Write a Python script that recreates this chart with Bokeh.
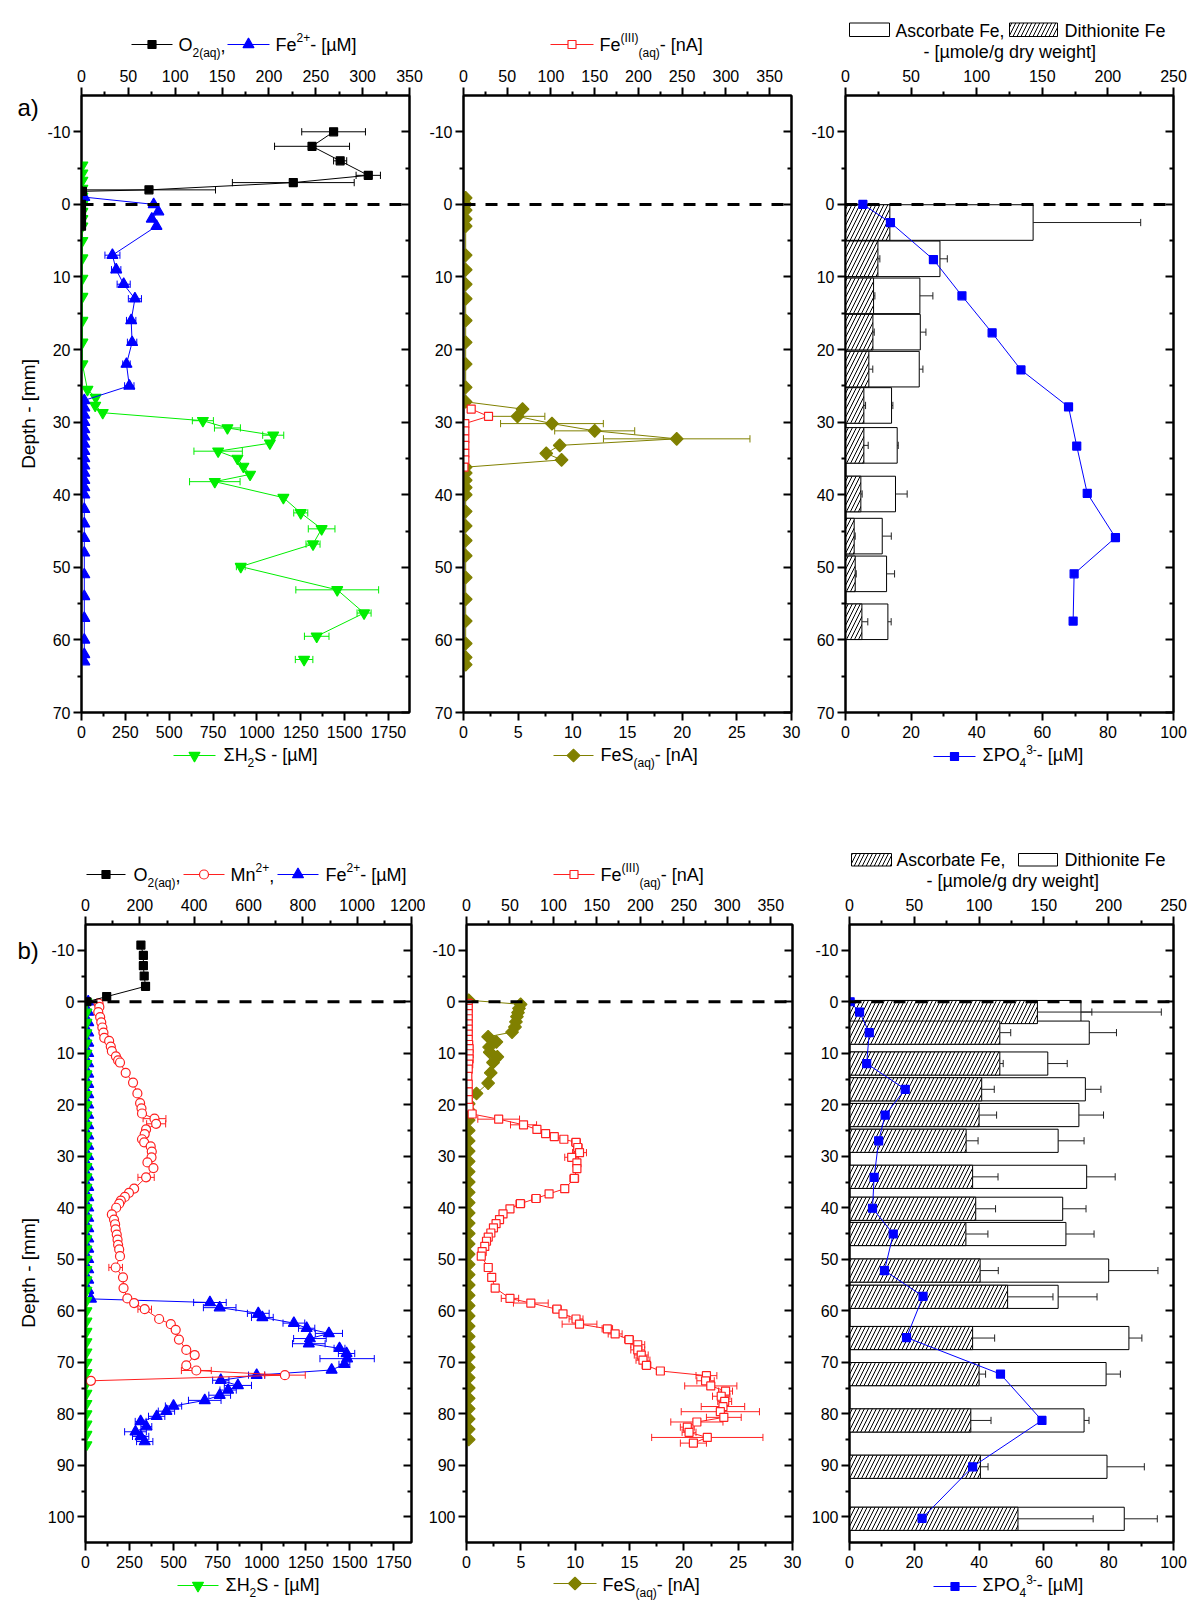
import numpy as np
from bokeh.plotting import figure
from bokeh.models import Range1d, LinearAxis, FixedTicker, Span, Spacer
from bokeh.layouts import column, row
from bokeh.embed import file_html
from bokeh.resources import INLINE
from bokeh.core.properties import value

FONT = "Liberation Sans"
BLACK = "#000000"
BLUE = "#0000ff"
GREEN = "#00ee00"
RED = "#ff2020"
OLIVE = "#808000"

# ---------------- DATA : panel a1 ----------------
o2_a_depth = [-10, -8, -6, -4, -3, -2, -1.8, 0, 1, 2, 3]
o2_a_val = [269, 246, 276, 306, 226, 72, 1, 0, 0, 0, 0]
o2_a_err = [34, 40, 7, 13, 65, 71, 0, 0, 0, 0, 0]

fe2_a_depth = [-1, 0, 1, 2, 3, 7, 9, 11, 13, 16, 19, 22, 25, 27, 28, 29, 30, 31, 32, 33, 34, 35, 36,
               37, 38, 39, 40, 42, 44, 46, 48, 51, 54, 57, 60, 62, 63]
fe2_a_val = [3, 77, 82, 75, 80, 33, 37, 45, 57, 53, 54, 48, 51, 3, 3, 3, 3, 3, 3, 3, 3, 3, 3,
             3, 3, 3, 3, 3, 3, 3, 3, 3, 3, 3, 3, 3, 3]
fe2_a_err = [0, 0, 0, 0, 0, 8, 5, 7, 7, 5, 5, 4, 5, 0, 0, 0, 0, 0, 0, 0, 0, 0, 0,
             0, 0, 0, 0, 0, 0, 0, 0, 0, 0, 0, 0, 0, 0]

h2s_a_depth = [-5.4, -4.3, -3.3, -2.2, -1.1, 0, 1, 2, 3, 5, 7.4, 10.2, 12.7, 16, 19, 22,
               25.5, 26.6, 27.7, 28.7, 29.8, 30.8, 31.8, 32.9, 34.0, 35.0, 36.1, 37.2, 38.2,
               40.4, 42.5, 44.7, 46.8, 49.9, 53.1, 56.3, 59.5, 62.7]
h2s_a_val = [5, 5, 5, 5, 5, 5, 5, 5, 5, 5, 5, 5, 5, 5, 5, 5,
             34, 81, 78, 121, 692, 832, 1093, 1074, 779, 889, 923, 961, 760,
             1151, 1250, 1369, 1320, 908, 1458, 1611, 1341, 1269]
h2s_a_err = [0, 0, 0, 0, 0, 0, 0, 0, 0, 0, 0, 0, 0, 0, 0, 0,
             0, 0, 0, 0, 60, 74, 60, 0, 138, 0, 0, 0, 144,
             0, 40, 76, 40, 25, 236, 40, 70, 50]

# ---------------- DATA : panel a2 ----------------
fes_a_depth = [-0.9, 0, 0.8, 2, 3, 7, 9, 11, 13, 16, 19, 22, 25.2, 27.2,
               28.2, 29.2, 30.2, 31.2, 32.3, 33.2, 34.3, 35.2,
               36.2, 37, 38, 39, 40, 42.3, 44.3, 46.3, 48.4, 51.4, 54.4, 57.4, 60.5, 62.4, 63.4]
fes_a_val = [0.2, 0.2, 0.2, 0.2, 0.2, 0.2, 0.2, 0.2, 0.2, 0.2, 0.2, 0.2, 0.2, 0.2,
             5.4, 4.94, 8.09, 12.0, 19.5, 8.8, 7.57, 8.97,
             0.2, 0.2, 0.2, 0.2, 0.2, 0.2, 0.2, 0.2, 0.2, 0.2, 0.2, 0.2, 0.2, 0.2, 0.2]
fes_a_err = [0, 0, 0, 0, 0, 0, 0, 0, 0, 0, 0, 0, 0, 0,
             0, 2.5, 4.7, 3.66, 6.7, 0, 0, 0,
             0, 0, 0, 0, 0, 0, 0, 0, 0, 0, 0, 0, 0, 0, 0]

fe3_a_depth = [28.2, 29.2, 30.2, 31.2, 32.3, 33.2, 34.3, 35.2, 36.2]
fe3_a_val = [8.8, 28.6, 1.5, 1.5, 1.5, 1.5, 1.5, 1.5, 0.5]

# ---------------- DATA : panel a3 ----------------
bar_a_depth = [2.5, 7.5, 12.6, 17.6, 22.7, 27.7, 33.2, 39.9, 45.7, 50.9, 57.5]
asc_a_val = [143, 72, 56.7, 57, 56.2, 35.1, 39.4, 38.1, 28, 31.3, 32.3]
asc_a_err = [82, 5.6, 9.9, 4.3, 2.8, 1, 0.8, 8.9, 6.9, 6.1, 2.5]
dit_a_val = [33.8, 24.7, 21.4, 20.9, 17.8, 14, 14, 11.7, 6.6, 7.4, 12.5]
dit_a_err = [1, 1.5, 1, 1, 3, 1.3, 3.3, 1, 0.8, 0.8, 4.5]

po4_a_depth = [0, 2.5, 7.6, 12.6, 17.7, 22.8, 27.9, 33.3, 39.8, 45.9, 50.9, 57.4]
po4_a_val = [5.3, 13.7, 26.8, 35.5, 44.7, 53.5, 68, 70.5, 73.7, 82.3, 69.7, 69.4]

# ---------------- DATA : panel b1 ----------------
o2_b_depth = [-11, -9, -7, -5, -3, -1, 0]
o2_b_val = [204, 213, 213, 216, 221, 78, 5]

mn_b_depth = [0.3, 1, 2, 3, 4, 5, 6, 7, 7.6, 8.7,
              9.6, 10.6, 11.4, 11.8, 13.8, 15.7, 17.8, 19.7, 20.7, 21.7,
              22.7, 23.7, 24.8, 25.7, 26.7, 27.3, 28.1, 29.1, 30.2, 31.2,
              32.3, 34.1, 36.3, 37.1, 37.9, 38.6, 39.2, 40, 41.3, 42.3,
              43.2, 44.2, 45.2, 46.2, 47.2, 48.1, 49.4, 51.6, 53.5, 55.6,
              57.6, 58.5, 59.7, 61.6, 62.6, 63.7, 65.6, 67.6, 68.6, 70.6,
              71.6, 72.5, 73.6]
mn_b_val = [48, 51, 47, 54, 58, 62, 66, 69, 87, 93,
            97, 112, 120, 127, 148, 175, 191, 201, 206, 208,
            254, 260, 223, 218, 208, 216, 240, 244, 243, 228,
            250, 223, 179, 160, 145, 130, 124, 113, 97, 105,
            109, 111, 115, 118, 120, 124, 127, 111, 138, 140,
            154, 179, 218, 271, 314, 332, 344, 371, 402, 371,
            408, 734, 20]
mn_b_err = [0, 0, 0, 0, 0, 0, 0, 0, 0, 0,
            0, 0, 0, 10, 0, 8, 0, 0, 0, 0,
            42, 35, 0, 0, 0, 0, 0, 0, 0, 0,
            0, 30, 0, 0, 0, 0, 0, 0, 0, 0,
            0, 0, 0, 0, 0, 0, 0, 25, 0, 0,
            0, 0, 25, 0, 0, 0, 0, 10, 12, 0,
            55, 75, 0]

fe2_b_depth = [0, 2, 4, 6, 8, 10, 12, 14, 16, 18, 20, 22, 24, 26, 28, 30, 32, 34, 36, 38, 40,
               42, 44, 46, 48, 50, 52, 54, 56,
               57.7, 58.4, 59.4, 60.5, 61.3, 62.4, 63.4, 64.4, 65.4, 66.4, 67.3, 68.3, 69.3,
               70.4, 71.5, 72.5, 73.5, 74.5, 75.4, 76.4, 77.4, 78.5, 79.5, 80.5, 81.5, 82.5,
               83.5, 84.4, 85.4]
fe2_b_val = [10, 10, 10, 10, 10, 10, 10, 10, 10, 10, 10, 10, 10, 10, 10, 10, 10, 10, 10, 10, 10,
             10, 10, 10, 10, 10, 10, 10, 10,
             20, 458, 494, 636, 651, 767, 814, 896, 826, 822, 935, 961, 963,
             953, 906, 630, 498, 561, 525, 494, 439, 324, 298, 262, 203, 224,
             184, 203, 218]
fe2_b_err = [0, 0, 0, 0, 0, 0, 0, 0, 0, 0, 0, 0, 0, 0, 0, 0, 0, 0, 0, 0, 0,
             0, 0, 0, 0, 0, 0, 0, 0,
             0, 60, 60, 40, 40, 40, 30, 50, 60, 60, 20, 30, 100,
             20, 0, 30, 30, 50, 30, 40, 60, 30, 30, 30, 20, 20,
             40, 30, 30]

h2s_b_depth = [0, 2, 4, 6, 8, 10, 12, 14, 16, 18, 20, 22, 24, 26, 28, 30, 32, 34, 36, 38, 40, 42,
               44, 46, 48, 50, 52, 54, 56, 58, 60, 62, 64, 66, 68, 70, 72, 74, 76, 78, 80, 82, 84, 86]
h2s_b_val = [8, 8, 8, 8, 8, 8, 8, 8, 8, 8, 8, 8, 8, 8, 8, 8, 8, 8, 8, 8, 8, 8,
             8, 8, 8, 8, 8, 8, 8, 8, 8, 8, 8, 8, 8, 8, 8, 8, 8, 8, 8, 8, 8, 8]

# ---------------- DATA : panel b2 ----------------
fes_b_depth = [-0.3, 0.5, 1.3, 2.1, 2.9, 3.9, 4.9, 5.9, 6.8, 7.8, 8.8, 9.8, 10.7, 11.8, 13.8,
               15.8, 17.8, 19.8,
               21, 23, 25, 27, 29, 31, 33, 35, 37, 39, 41, 43, 45, 47, 49, 51, 53, 55, 57, 59,
               61, 63, 65, 67, 69, 71, 73, 75, 77, 79, 81, 83, 85]
fes_b_val = [0.2, 4.98, 4.83, 4.74, 4.64, 4.55, 4.46, 4.19, 1.99, 2.75, 2.08, 2.14, 2.84, 2.44,
             2.23, 1.99, 0.92, 0.2,
             0.2, 0.2, 0.2, 0.2, 0.2, 0.2, 0.2, 0.2, 0.2, 0.2, 0.2, 0.2, 0.2, 0.2, 0.2, 0.2,
             0.2, 0.2, 0.2, 0.2, 0.2, 0.2, 0.2, 0.2, 0.2, 0.2, 0.2, 0.2, 0.2, 0.2, 0.2, 0.2, 0.2]
fes_b_err = [0, 0, 0, 0, 0, 0, 0, 0, 0, 0.3, 0, 0, 0.3, 0, 0, 0, 0, 0,
             0, 0, 0, 0, 0, 0, 0, 0, 0, 0, 0, 0, 0, 0, 0, 0, 0, 0, 0, 0,
             0, 0, 0, 0, 0, 0, 0, 0, 0, 0, 0, 0, 0]

fe3_b_depth = [0.3, 1.3, 2.3, 3.3, 4.3, 5.3, 6.3, 7.3, 8.3, 9.1, 10.1, 11.1, 12.1, 13.1, 14.5,
               16, 17.5, 19, 20.5, 21.8,
               22.8, 23.9, 24.8, 25.6, 26.2, 26.7, 27.3, 28.3, 29.3, 30.2,
               31.3, 32.4, 34.3, 36.3, 37.3, 38.2, 39.2, 40.2, 41.2, 42.3,
               43.1, 43.9, 44.9, 45.7, 46.5, 47.5, 48.5, 49.4, 51.6, 53.5,
               55.6, 57.6, 58.5, 59.7, 60.6, 61.6, 62.6, 63.5, 64.5, 65.6,
               66.6, 67.6, 68.6, 69.6, 70.6, 71.7, 72.6, 73.6, 74.6, 75.6,
               76.6, 77.6, 78.6, 79.6, 80.7, 81.6, 82.6, 83.6, 84.6, 85.7]
fe3_b_val = [2, 2, 2, 2, 2, 2, 2, 2, 2.5, 3, 3, 3, 2.5, 2, 1.5, 2, 2, 2, 3, 6.5,
             37, 65.6, 81, 91, 101, 112, 126, 128, 130, 121,
             127, 127, 124, 113, 95, 80, 62, 50, 42, 38,
             34, 31, 28, 25, 23, 21, 18, 17, 25, 29,
             33, 50, 74, 104, 111, 126, 130, 162, 171, 187,
             197, 197, 201, 203, 207, 223, 276, 275, 281, 298,
             293, 297, 295, 292, 296, 265, 254, 256, 277, 261]
fe3_b_err = [0, 0, 0, 0, 0, 0, 0, 0, 0, 0, 0, 0, 0, 0, 0, 0, 0, 0, 0, 0,
             24, 15, 0, 0, 0, 0, 5, 5, 8, 8,
             0, 0, 5, 0, 0, 5, 5, 4, 0, 0,
             0, 0, 0, 0, 0, 0, 0, 0, 4, 3,
             0, 10, 20, 5, 0, 8, 20, 6, 8, 5,
             8, 8, 8, 8, 5, 0, 12, 10, 30, 8,
             10, 8, 25, 45, 20, 30, 8, 8, 64, 15]

# ---------------- DATA : panel b3 ----------------
bar_b_depth = [2, 6, 12, 17, 22, 27, 34, 40.2, 45.1, 52.2, 57.3, 65.3, 72.3, 81.3, 90.3, 100.4]
dit_b_val = [178.6, 185, 153, 182, 177, 161, 183, 164.5, 167, 200, 161, 215.6, 198, 181, 198.7, 212]
dit_b_err = [62, 21, 15, 12, 19, 20, 22, 18, 21.7, 38, 30, 10, 11, 3.8, 28.8, 25.5]
asc_b_val = [145, 116, 116, 102, 100, 90, 95, 97.4, 89.8, 100.8, 122, 95, 100, 93.6, 101, 130]
asc_b_err = [42, 8.4, 2.6, 9.7, 13.5, 9.2, 19.6, 15.3, 17, 14, 35, 17, 5, 15.6, 5.9, 58]

po4_b_depth = [0, 2, 6, 12, 17, 22, 27, 34.1, 40.1, 45.1, 52.2, 57.2, 65.2, 72.3, 81.3, 90.3, 100.3]
po4_b_val = [0.2, 3.1, 6.1, 5.3, 17.2, 11, 9, 7.6, 7.1, 13.5, 10.8, 22.7, 17.6, 46.6, 59.4, 38, 22.4]

# ---------------- axis ticks ----------------
ticks_h2s = [0, 250, 500, 750, 1000, 1250, 1500, 1750]
minor_h2s = [125, 375, 625, 875, 1125, 1375, 1625]
ticks_350 = [0, 50, 100, 150, 200, 250, 300, 350]
minor_350 = [25, 75, 125, 175, 225, 275, 325]
ticks_30 = [0, 5, 10, 15, 20, 25, 30]
minor_30 = [2.5, 7.5, 12.5, 17.5, 22.5, 27.5]
ticks_100 = [0, 20, 40, 60, 80, 100]
minor_100 = [10, 30, 50, 70, 90]
ticks_250 = [0, 50, 100, 150, 200, 250]
minor_250 = [25, 75, 125, 175, 225]
ticks_1200 = [0, 200, 400, 600, 800, 1000, 1200]
minor_1200 = [100, 300, 500, 700, 900, 1100]
ticks_ya = [-10, 0, 10, 20, 30, 40, 50, 60, 70]
minor_ya = [-5, 5, 15, 25, 35, 45, 55, 65]
ticks_yb = [-10, 0, 10, 20, 30, 40, 50, 60, 70, 80, 90, 100]
minor_yb = [-5, 5, 15, 25, 35, 45, 55, 65, 75, 85, 95]

# ---------------- helpers ----------------
W = {' ': 278, '(': 333, ')': 333, '+': 584, ',': 278, '-': 333, '/': 278, '[': 278, ']': 278,
     'A': 667, 'D': 722, 'F': 611, 'H': 722, 'I': 278, 'M': 833, 'O': 778, 'P': 667, 'S': 667,
     'a': 556, 'b': 556, 'c': 500, 'd': 556, 'e': 556, 'g': 556, 'h': 556, 'i': 222, 'l': 222,
     'm': 833, 'n': 556, 'o': 556, 'q': 556, 'r': 333, 's': 500, 't': 278, 'w': 722, 'y': 500,
     'µ': 576, 'Σ': 610}
for _c in "0123456789":
    W[_c] = 556


def tw(t, size):
    return sum(W.get(c, 556) for c in t) * size / 1000.0


def style_axis(ax, ticks, minor, inward=False, labels=True, standoff=4):
    ax.ticker = FixedTicker(ticks=ticks, minor_ticks=minor)
    ax.axis_line_width = 2
    ax.axis_line_color = "black"
    ax.major_tick_line_width = 2
    ax.minor_tick_line_width = 2
    if inward:
        ax.major_tick_in, ax.major_tick_out = 8, 0
        ax.minor_tick_in, ax.minor_tick_out = 4, 0
    else:
        ax.major_tick_in, ax.major_tick_out = 0, 8
        ax.minor_tick_in, ax.minor_tick_out = 0, 4
    ax.major_label_text_font = FONT
    if labels:
        ax.major_label_text_font_size = "16px"
        ax.major_label_standoff = standoff
        ax.major_label_text_color = "black"
        if -10 in ticks:
            ax.major_label_overrides = {-10: "-10"}
    else:
        ax.major_label_text_font_size = "0px"
        ax.major_label_text_color = None
        ax.major_label_standoff = 0


def panel(width, height, bl, br, bt, bb, xb, xt, ymax, b_ticks, b_minor, t_ticks, t_minor,
          y_ticks, y_minor):
    p = figure(width=width, height=height, x_range=Range1d(0, xb), y_range=Range1d(ymax, -15),
               output_backend="svg", toolbar_location=None,
               min_border_left=bl, min_border_right=br, min_border_top=bt, min_border_bottom=bb)
    p.extra_x_ranges = {"top": Range1d(0, xt)}
    p.xgrid.visible = False
    p.ygrid.visible = False
    p.outline_line_color = "black"
    p.outline_line_width = 2
    p.background_fill_color = "white"
    p.border_fill_color = "white"
    style_axis(p.xaxis[0], b_ticks, b_minor, standoff=5)
    style_axis(p.yaxis[0], y_ticks, y_minor, standoff=3)
    ta = LinearAxis(x_range_name="top")
    style_axis(ta, t_ticks, t_minor, standoff=6)
    p.add_layout(ta, "above")
    ra = LinearAxis()
    style_axis(ra, y_ticks, y_minor, inward=True, labels=False)
    p.add_layout(ra, "right")
    p.add_layout(Span(location=0, dimension="width", line_color="black", line_width=3,
                      line_dash="12 10"))
    return p


def series(p, d, v, e, color, marker, size, fill, rng=None, cap=0.5, line_n=None, angle=0.0):
    d = np.asarray(d, float)
    v = np.asarray(v, float)
    assert len(d) == len(v)
    kw = {"x_range_name": rng} if rng else {}
    n = len(d) if line_n is None else line_n
    p.line(x=v[:n], y=d[:n], line_color=color, line_width=1, **kw)
    if e is not None:
        e = np.asarray(e, float)
        assert len(e) == len(d)
        m = e > 0
        if m.any():
            p.segment(x0=v[m] - e[m], y0=d[m], x1=v[m] + e[m], y1=d[m], line_color=color,
                      line_width=1, **kw)
            for sgn in (-1, 1):
                xx = v[m] + sgn * e[m]
                p.segment(x0=xx, y0=d[m] - cap, x1=xx, y1=d[m] + cap, line_color=color,
                          line_width=1, **kw)
    p.scatter(x=v, y=d, marker=marker, size=size, fill_color=fill, line_color=color,
              line_width=1.2, angle=angle, **kw)


def bars(p, d, v, e, hatch, height):
    d = np.asarray(d, float)
    v = np.asarray(v, float)
    e = np.asarray(e, float)
    assert len(d) == len(v) == len(e)
    kw = dict(fill_color="white", line_color="black", line_width=1, x_range_name="top")
    if hatch:
        kw.update(hatch_pattern="/", hatch_color="black", hatch_scale=8, hatch_weight=1)
    p.hbar(y=d, height=height, left=0, right=v, **kw)
    return d, v, e


def bar_err(p, d, v, e, cap):
    p.segment(x0=v, y0=d, x1=v + e, y1=d, line_color="#222222", line_width=1, x_range_name="top")
    p.segment(x0=v + e, y0=d - cap, x1=v + e, y1=d + cap, line_color="#222222", line_width=1,
              x_range_name="top")


# strips: a drawing area whose coordinates are page pixels (y stored as negative page y)
def strip(width, height, x0, y0):
    s = figure(width=width, height=height, x_range=Range1d(x0, x0 + width),
               y_range=Range1d(-(y0 + height), -y0), x_axis_type=None, y_axis_type=None,
               output_backend="svg", toolbar_location=None, min_border=0)
    s.outline_line_color = None
    s.background_fill_color = "white"
    s.border_fill_color = "white"
    return s


# the renderer draws "alphabetic" text about 0.3 em lower than asked; compensate
SHIFT = 0.3


def rich(s, x, y, runs, size=18, small=12, sup=-9):
    for t, k in runs:
        sz = size if k == "n" else small
        dy = 0 if k == "n" else (6 if k == "sub" else sup)
        s.text(x=[x], y=[-(y + dy - SHIFT * sz)], text=[t], text_font=value(FONT),
               text_font_size=value(f"{sz}px"), text_baseline="alphabetic", text_align="left",
               text_color="black")
        x += tw(t, sz)
    return x


def sample(s, x0, x1, y, color, marker, size, fill, angle=0.0):
    s.line(x=[x0, x1], y=[-y, -y], line_color=color, line_width=1)
    s.scatter(x=[(x0 + x1) / 2.0], y=[-y], marker=marker, size=size, fill_color=fill,
              line_color=color, line_width=1.2, angle=angle)


def box(s, x0, x1, y0, y1, hatch):
    kw = dict(fill_color="white", line_color="black", line_width=1)
    if hatch:
        kw.update(hatch_pattern="/", hatch_color="black", hatch_scale=8, hatch_weight=1)
    s.quad(left=[x0], right=[x1], top=[-y0], bottom=[-y1], **kw)


def side(s, letter, ly, depth_y):
    s.text(x=[17], y=[-ly], text=[letter], text_font=value(FONT),
           text_font_size=value("24px"), text_baseline="alphabetic", text_align="left",
           text_color="black")
    s.text(x=[28], y=[-depth_y], text=["Depth - [mm]"], text_font=value(FONT),
           text_font_size=value("19px"), text_baseline="middle", text_align="center",
           text_color="black", angle=np.pi / 2)


DIAM = np.pi / 4

# ---------------- row a ----------------
CAP_A = 0.5
leftA = strip(35, 682, 8, 62)
side(leftA, "a)", 75, 414)

a1 = panel(382, 682, 38, 16, 33, 32, 1870, 350, 70, ticks_h2s, minor_h2s, ticks_350, minor_350,
           ticks_ya, minor_ya)
series(a1, h2s_a_depth, h2s_a_val, h2s_a_err, GREEN, "inverted_triangle", 11, GREEN, cap=CAP_A,
       line_n=len(h2s_a_depth) - 1)
series(a1, fe2_a_depth, fe2_a_val, fe2_a_err, BLUE, "triangle", 11, BLUE, rng="top", cap=CAP_A)
series(a1, o2_a_depth, o2_a_val, o2_a_err, BLACK, "square", 8, BLACK, rng="top", cap=CAP_A)

a2 = panel(383, 682, 38, 17, 33, 32, 30, 375, 70, ticks_30, minor_30, ticks_350, minor_350,
           ticks_ya, minor_ya)
series(a2, fes_a_depth, fes_a_val, fes_a_err, OLIVE, "square", 9, OLIVE, cap=CAP_A, angle=DIAM)
series(a2, fe3_a_depth, fe3_a_val, None, RED, "square", 8, "white", rng="top", cap=CAP_A)

a3 = panel(384, 682, 37, 19, 33, 32, 100, 250, 70, ticks_100, minor_100, ticks_250, minor_250,
           ticks_ya, minor_ya)
da, va, ea = bars(a3, bar_a_depth, asc_a_val, asc_a_err, False, 4.9)
db, vb, eb = bars(a3, bar_a_depth, dit_a_val, dit_a_err, True, 4.9)
bar_err(a3, da, va, ea, CAP_A)
bar_err(a3, db, vb, eb, CAP_A)
series(a3, po4_a_depth, po4_a_val, None, BLUE, "square", 8, BLUE)

# ---------------- row b ----------------
CAP_B = 0.7
leftB = strip(35, 683, 8, 891)
side(leftB, "b)", 920, 1276)

b1 = panel(382, 683, 42, 14, 33, 32, 1850, 1200, 105, ticks_h2s, minor_h2s, ticks_1200, minor_1200,
           ticks_yb, minor_yb)
series(b1, fe2_b_depth, fe2_b_val, fe2_b_err, BLUE, "triangle", 11, BLUE, rng="top", cap=CAP_B)
series(b1, h2s_b_depth, h2s_b_val, None, GREEN, "inverted_triangle", 10, GREEN, cap=CAP_B)
series(b1, mn_b_depth, mn_b_val, mn_b_err, RED, "circle", 9, "white", rng="top", cap=CAP_B)
series(b1, o2_b_depth, o2_b_val, None, BLACK, "square", 8, BLACK, rng="top", cap=CAP_B)

b2 = panel(383, 683, 40, 16, 33, 32, 30, 375, 105, ticks_30, minor_30, ticks_350, minor_350,
           ticks_yb, minor_yb)
series(b2, fes_b_depth, fes_b_val, fes_b_err, OLIVE, "square", 9, OLIVE, cap=CAP_B, angle=DIAM)
series(b2, fe3_b_depth, fe3_b_val, fe3_b_err, RED, "square", 8, "white", rng="top", cap=CAP_B)

b3 = panel(384, 683, 38, 19, 33, 32, 100, 250, 105, ticks_100, minor_100, ticks_250, minor_250,
           ticks_yb, minor_yb)
d1, v1, e1 = bars(b3, bar_b_depth, dit_b_val, dit_b_err, False, 4.5)
d2, v2, e2 = bars(b3, bar_b_depth, asc_b_val, asc_b_err, True, 4.5)
bar_err(b3, d1, v1, e1, CAP_B)
bar_err(b3, d2, v2, e2, CAP_B)
series(b3, po4_b_depth, po4_b_val, None, BLUE, "square", 8, BLUE)

# ---------------- legend strips ----------------
s1 = strip(1184, 54, 8, 8)
sample(s1, 131, 172, 44, BLACK, "square", 8, BLACK)
rich(s1, 178, 50, [("O", "n"), ("2(aq)", "sub"), (",", "n")])
sample(s1, 227, 269, 44, BLUE, "triangle", 11, BLUE)
rich(s1, 275, 50, [("Fe", "n"), ("2+", "sup"), (" - [µM]", "n")])
sample(s1, 550, 593, 44, RED, "square", 8, "white")
rich(s1, 599, 50, [("Fe", "n"), ("(III)", "sup"), ("(aq)", "sub"), (" - [nA]", "n")])
box(s1, 849, 889, 22.5, 36, False)
rich(s1, 895, 36, [("Ascorbate Fe,", "n")], size=17.5)
box(s1, 1009, 1057, 22.5, 36, True)
rich(s1, 1064, 36, [("Dithionite Fe", "n")])
rich(s1, 923, 57, [("- [µmole/g dry weight]", "n")])

s2 = strip(1184, 147, 8, 744)
sample(s2, 173, 215, 755, GREEN, "inverted_triangle", 11, GREEN)
rich(s2, 223, 760, [("ΣH", "n"), ("2", "sub"), ("S - [µM]", "n")])
sample(s2, 553, 593, 755, OLIVE, "square", 9, OLIVE, angle=DIAM)
rich(s2, 600, 760, [("FeS", "n"), ("(aq)", "sub"), (" - [nA]", "n")])
sample(s2, 933, 975, 756, BLUE, "square", 8, BLUE)
rich(s2, 982, 760, [("ΣPO", "n"), ("4", "sub"), ("3-", "sup"), (" - [µM]", "n")], sup=-7)

sample(s2, 86, 125, 874, BLACK, "square", 8, BLACK)
rich(s2, 133, 880, [("O", "n"), ("2(aq)", "sub"), (",", "n")])
sample(s2, 183, 224, 874, RED, "circle", 9, "white")
rich(s2, 230, 880, [("Mn", "n"), ("2+", "sup"), (",", "n")])
sample(s2, 277, 318, 874, BLUE, "triangle", 11, BLUE)
rich(s2, 325, 880, [("Fe", "n"), ("2+", "sup"), (" - [µM]", "n")])
sample(s2, 553, 594, 874, RED, "square", 8, "white")
rich(s2, 600, 880, [("Fe", "n"), ("(III)", "sup"), ("(aq)", "sub"), (" - [nA]", "n")])
box(s2, 851, 891, 853, 865.5, True)
rich(s2, 896, 865, [("Ascorbate Fe,", "n")], size=17.5)
box(s2, 1018, 1057, 853, 865.5, False)
rich(s2, 1064, 865, [("Dithionite Fe", "n")])
rich(s2, 926, 886, [("- [µmole/g dry weight]", "n")])

s3 = strip(1184, 30, 8, 1574)
sample(s3, 177, 218, 1585, GREEN, "inverted_triangle", 11, GREEN)
rich(s3, 225, 1590, [("ΣH", "n"), ("2", "sub"), ("S - [µM]", "n")])
sample(s3, 553, 596, 1583, OLIVE, "square", 9, OLIVE, angle=DIAM)
rich(s3, 602, 1590, [("FeS", "n"), ("(aq)", "sub"), (" - [nA]", "n")])
sample(s3, 933, 976, 1586, BLUE, "square", 8, BLUE)
rich(s3, 982, 1590, [("ΣPO", "n"), ("4", "sub"), ("3-", "sup"), (" - [µM]", "n")], sup=-7)

content = column(Spacer(width=1184, height=8), s1, row(leftA, a1, a2, a3), s2,
                 row(leftB, b1, b2, b3), s3)
layout = row(Spacer(width=8, height=8), content)
open("out.html", "w").write(file_html(layout, INLINE, title="Depth profiles"))
